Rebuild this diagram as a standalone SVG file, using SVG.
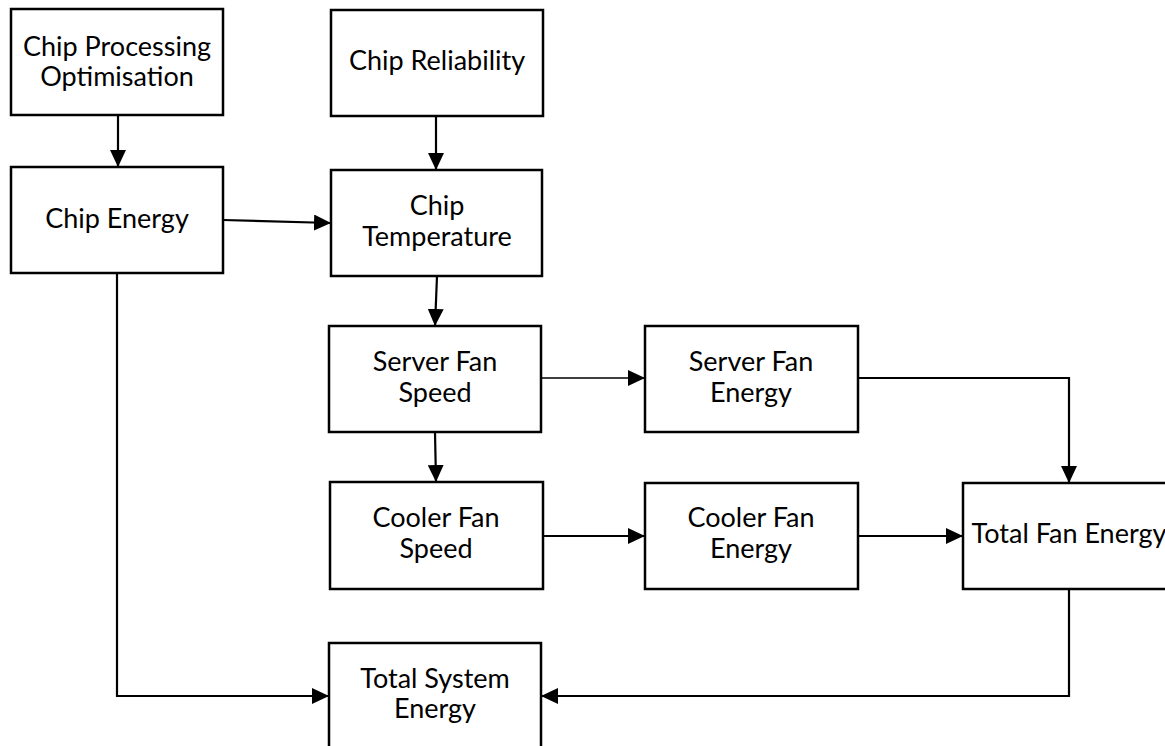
<svg xmlns="http://www.w3.org/2000/svg" width="1165" height="746" viewBox="0 0 1165 746">
<style>
.box{fill:#fff;stroke:#000;stroke-width:2.5}
.t{font-family:Lato,"Open Sans","Liberation Sans",sans-serif;font-size:27px;fill:#000;text-anchor:middle}
.c{fill:none;stroke:#000;stroke-width:2.2}
.thin{stroke-width:1.6}
</style>
<defs>
<marker id="ah" markerUnits="userSpaceOnUse" markerWidth="18" markerHeight="16" refX="17" refY="8" orient="auto">
<path d="M0,0 L17,8 L0,16 Z" fill="#000"/>
</marker>
</defs>
<rect width="1165" height="746" fill="#fff"/>
<g id="connectors">
<path class="c" d="M118,115 V167" marker-end="url(#ah)"/>
<path class="c" d="M436,116 V170" marker-end="url(#ah)"/>
<path class="c" d="M223,220 L331,223" marker-end="url(#ah)"/>
<path class="c" d="M437,276 L435,326" marker-end="url(#ah)"/>
<path class="c thin" d="M541,378 H645" marker-end="url(#ah)"/>
<path class="c" d="M435,432 L436,482" marker-end="url(#ah)"/>
<path class="c" d="M543,536 H645" marker-end="url(#ah)"/>
<path class="c" d="M858,378 H1069 V483" marker-end="url(#ah)"/>
<path class="c" d="M858,536 H963" marker-end="url(#ah)"/>
<path class="c" d="M1069,589 V696 H541" marker-end="url(#ah)"/>
<path class="c" d="M117,273 V696 H329" marker-end="url(#ah)"/>
</g>
<g id="chip-processing">
<rect class="box" x="11" y="9" width="212" height="106"/>
<text class="t" x="117" y="56">Chip Processing</text>
<text class="t" x="117" y="86">Optimisation</text>
</g>
<g id="chip-reliability">
<rect class="box" x="331" y="10" width="212" height="106"/>
<text class="t" x="437" y="70">Chip Reliability</text>
</g>
<g id="chip-energy">
<rect class="box" x="11" y="167" width="212" height="106"/>
<text class="t" x="117" y="228">Chip Energy</text>
</g>
<g id="chip-temperature">
<rect class="box" x="331" y="170" width="211" height="106"/>
<text class="t" x="437" y="215">Chip</text>
<text class="t" x="437" y="246">Temperature</text>
</g>
<g id="server-fan-speed">
<rect class="box" x="329" y="326" width="212" height="106"/>
<text class="t" x="435" y="371">Server Fan</text>
<text class="t" x="435" y="402">Speed</text>
</g>
<g id="server-fan-energy">
<rect class="box" x="645" y="326" width="213" height="106"/>
<text class="t" x="751" y="371">Server Fan</text>
<text class="t" x="751" y="402">Energy</text>
</g>
<g id="cooler-fan-speed">
<rect class="box" x="330" y="482" width="213" height="107"/>
<text class="t" x="436" y="527">Cooler Fan</text>
<text class="t" x="436" y="558">Speed</text>
</g>
<g id="cooler-fan-energy">
<rect class="box" x="645" y="483" width="213" height="106"/>
<text class="t" x="751" y="527">Cooler Fan</text>
<text class="t" x="751" y="558">Energy</text>
</g>
<g id="total-fan-energy">
<rect class="box" x="963" y="483" width="212" height="106"/>
<text class="t" x="1069" y="543">Total Fan Energy</text>
</g>
<g id="total-system-energy">
<rect class="box" x="329" y="643" width="212" height="110"/>
<text class="t" x="435" y="688">Total System</text>
<text class="t" x="435" y="718">Energy</text>
</g>
</svg>
